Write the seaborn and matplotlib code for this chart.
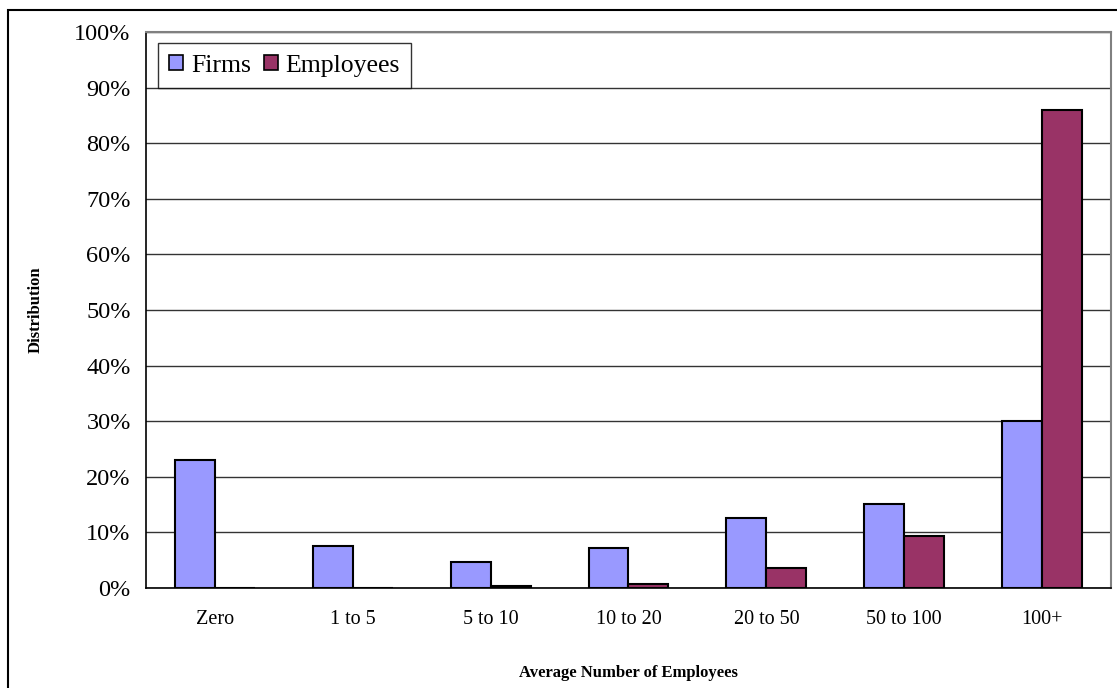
import pandas as pd
import matplotlib
matplotlib.use("Agg")
import matplotlib.pyplot as plt
import seaborn as sns
from matplotlib.patches import Rectangle
from matplotlib.ticker import FixedLocator, PercentFormatter

# data
size_classes = ['Zero', '1 to 5', '5 to 10', '10 to 20', '20 to 50', '50 to 100', '100+']
firms = [23.0, 7.5, 4.6, 7.2, 12.6, 15.1, 30.0]
employees = [0.0, 0.0, 0.3, 0.7, 3.6, 9.3, 86.0]
series = ['Firms', 'Employees']
colors = ['#9999FF', '#993366']

df = pd.DataFrame({
    'Size': size_classes * 2,
    'Share': firms + employees,
    'Series': ['Firms'] * len(firms) + ['Employees'] * len(employees),
})

sns.set_style('white')
plt.rcParams['font.family'] = ['Liberation Serif', 'DejaVu Serif']
plt.rcParams['text.color'] = 'black'
plt.rcParams['axes.labelcolor'] = 'black'
plt.rcParams['xtick.color'] = 'black'
plt.rcParams['ytick.color'] = 'black'

fig = plt.figure(figsize=(11.17, 6.88), dpi=100)
ax = fig.add_axes([0.1307, 0.1453, 0.8639, 0.8082])

sns.barplot(data=df, x='Size', y='Share', hue='Series', hue_order=series,
            palette=colors, width=0.58, gap=0, edgecolor='black',
            linewidth=1.5, saturation=1, legend=False, ax=ax)

ax.set_xlim(-0.5, len(size_classes) - 0.5)
ax.set_ylim(0, 100)
ax.set_yticks(range(0, 101, 10))
ax.yaxis.set_major_formatter(PercentFormatter(decimals=0))
ax.grid(axis='y', color='#333333', linewidth=1)
ax.set_axisbelow(True)

# category boundary tick marks on x axis
ax.xaxis.set_minor_locator(FixedLocator([i - 0.5 for i in range(len(size_classes) + 1)]))
ax.tick_params(axis='x', which='major', length=0, pad=16, labelsize=14.5)
ax.tick_params(axis='x', which='minor', length=7, width=1, color='black', direction='out')
ax.tick_params(axis='y', length=7, width=1, color='black', direction='out', labelsize=17.5, pad=4)

for side in ['left', 'bottom']:
    ax.spines[side].set_color('black')
    ax.spines[side].set_linewidth(1.2)
for side in ['top', 'right']:
    ax.spines[side].set_visible(True)
    ax.spines[side].set_color('#808080')
    ax.spines[side].set_linewidth(1.5)

ax.set_xlabel('Average Number of Employees', fontsize=12, fontweight='bold', labelpad=26)
ax.set_ylabel('Distribution', fontsize=12, fontweight='bold', labelpad=22)

handles = [Rectangle((0, 0), 1, 1, facecolor=c, edgecolor='black', linewidth=1.2) for c in colors]
leg = ax.legend(handles, series, loc='upper left', ncol=2, fontsize=18.5,
                bbox_to_anchor=(0.012, 0.98), frameon=True, fancybox=False,
                handlelength=0.55, handleheight=0.55, handletextpad=0.3,
                columnspacing=0.5, borderpad=0.45, borderaxespad=0)
leg.get_frame().set_edgecolor('black')
leg.get_frame().set_linewidth(1)

# outer chart border (cut off on the right and bottom)
fig.patches.append(Rectangle((8 / 1117, -0.05), 1.2, 1 - 10 / 688 + 0.05,
                             transform=fig.transFigure, fill=False,
                             edgecolor='black', linewidth=1.5))

fig.savefig('out.png', dpi=100)
